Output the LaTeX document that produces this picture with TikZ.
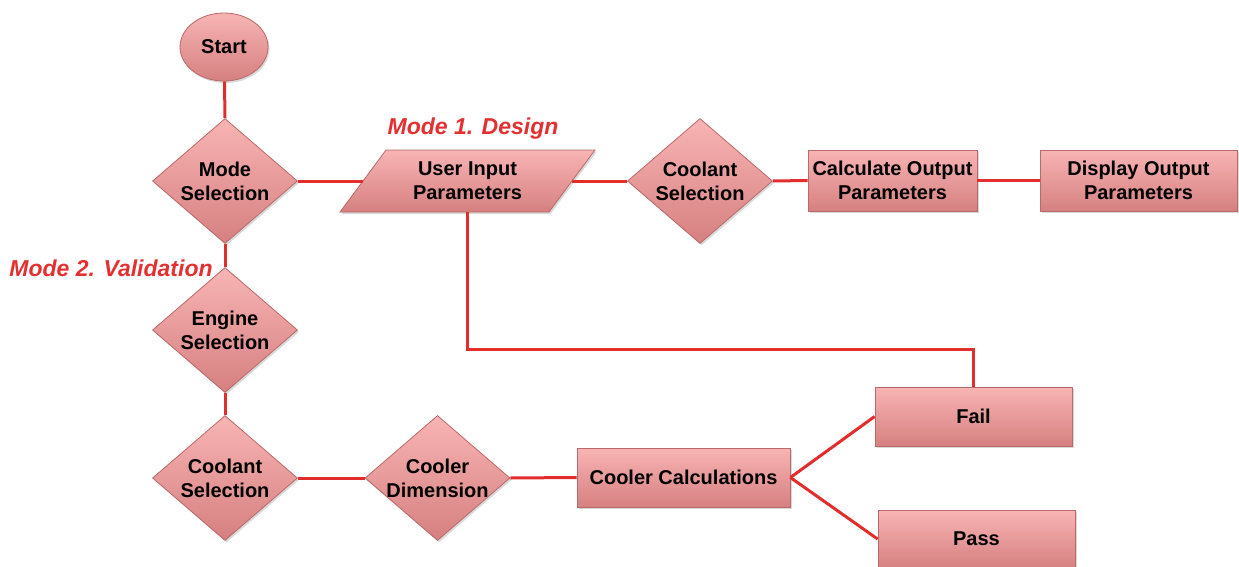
\documentclass[tikz,border=0pt]{standalone}
\usepackage{fontspec}
\setmainfont{Liberation Sans}
\usetikzlibrary{shapes.geometric,shadows}
\definecolor{fillt}{RGB}{248,180,180}
\definecolor{fillb}{RGB}{214,128,128}
\definecolor{edgec}{RGB}{185,105,105}
\definecolor{linec}{RGB}{226,45,45}
\definecolor{labc}{RGB}{228,48,48}
\begin{document}
\begin{tikzpicture}[x=1pt,y=-1pt,
  fillstyle/.style={draw=edgec, line width=0.8pt, top color=fillt, bottom color=fillb,
    drop shadow={opacity=0.3,shadow xshift=1.5pt,shadow yshift=-2pt}},
  textstyle/.style={font=\bfseries\fontsize{20}{24}\selectfont, align=center},
  shape base/.style={fillstyle, textstyle},
  box/.style={shape base, rectangle, inner sep=0pt},
  dia/.style={shape base, diamond, inner sep=-40pt, minimum width=145pt, minimum height=125pt},
  startnode/.style={shape base, ellipse, inner sep=0pt, minimum width=88pt, minimum height=68pt},
  modelabel/.style={text=labc, font=\bfseries\itshape\fontsize{23}{26}\selectfont, inner sep=0pt},
  conn/.style={draw=linec, line width=3pt}
]
\useasboundingbox (0,0) rectangle (1239,567);

\node[startnode] (start) at (224,47) {Start};
\node[dia] (ms) at (225,181) {Mode\\Selection};

% parallelogram (input)
\path[fillstyle] (340,212) -- (386,150) -- (595,150) -- (549,212) -- cycle;
\node[textstyle, inner sep=0pt] (ui) at (467.5,181) {User Input\\Parameters};
\coordinate (uil) at (363,181);
\coordinate (uir) at (572,181);
\coordinate (uib) at (467.5,212);

\node[dia] (cs1) at (700,181) {Coolant\\Selection};
\node[box, minimum width=169pt, minimum height=61pt] (calc) at (892.5,180.5) {Calculate Output\\Parameters};
\node[box, minimum width=197pt, minimum height=61pt] (disp) at (1138.5,180.5) {Display Output\\Parameters};

\node[dia] (es) at (225,330) {Engine\\Selection};
\node[dia] (cs2) at (225,478) {Coolant\\Selection};
\node[dia] (cd) at (437.5,478) {Cooler\\Dimension};
\node[box, minimum width=213pt, minimum height=59pt] (cc) at (683.5,477.5) {Cooler Calculations};
\node[box, minimum width=197pt, minimum height=59pt] (fail) at (973.5,416.5) {Fail};
\node[box, minimum width=197pt, minimum height=58pt] (pass) at (976.5,539) {Pass};

\node[modelabel] (m1) at (473,129) {Mode 1. Design};
\node[modelabel] (m2) at (111,268) {Mode 2. Validation};

\coordinate (loop) at (700,349);

\draw[conn] (start) -- (ms.north);
\draw[conn] (ms.east) -- (uil);
\draw[conn] (uir) -- (cs1.west);
\draw[conn] (cs1.east) -- (calc.west);
\draw[conn] (calc.east) -- (disp.west);
\draw[conn] (ms.south) -- (es.north);
\draw[conn] (es.south) -- (cs2.north);
\draw[conn] (cs2.east) -- (cd.west);
\draw[conn] (cd.east) -- (cc.west);
\draw[conn] (cc.east) -- (fail.west);
\draw[conn] (cc.east) -- (pass.west);
\draw[conn] (uib) |- (loop) -| (fail.north);
\end{tikzpicture}
\end{document}
